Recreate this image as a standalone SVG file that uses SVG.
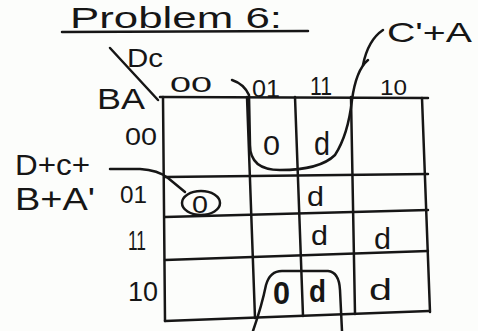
<svg xmlns="http://www.w3.org/2000/svg" width="478" height="331" viewBox="0 0 478 331">
<style>
.t{font-family:"Liberation Sans",Arial,sans-serif;fill:#161616}
.b{font-weight:bold}
.ln{stroke:#161616;stroke-width:2.5;fill:none;stroke-linecap:round;stroke-linejoin:round}
</style>
<rect width="478" height="331" fill="#fcfdfb"/>
<g id="title">
<text class="t" x="70" y="28" font-size="29" textLength="212" lengthAdjust="spacingAndGlyphs">Problem 6:</text>
<path class="ln" d="M62 32 L308 31"/>
</g>
<g id="axis-labels">
<path class="ln" d="M110 48 L158 100" stroke-width="3"/>
<text class="t" x="127" y="67" font-size="26" textLength="36" lengthAdjust="spacingAndGlyphs">Dc</text>
<text class="t" x="97" y="109" font-size="30" textLength="48" lengthAdjust="spacingAndGlyphs">BA</text>
</g>
<g id="col-headers">
<text class="t" x="170" y="92" font-size="22" textLength="42" lengthAdjust="spacingAndGlyphs">00</text>
<text class="t" x="252" y="97" font-size="24" textLength="28" lengthAdjust="spacingAndGlyphs">01</text>
<text class="t" x="310" y="95" font-size="26" textLength="22" lengthAdjust="spacingAndGlyphs">11</text>
<text class="t" x="380" y="95" font-size="22" textLength="27" lengthAdjust="spacingAndGlyphs">10</text>
</g>
<g id="row-headers">
<text class="t" x="125" y="145" font-size="23" textLength="32" lengthAdjust="spacingAndGlyphs">00</text>
<text class="t" x="120" y="203" font-size="24" textLength="27" lengthAdjust="spacingAndGlyphs">01</text>
<text class="t" x="128" y="250" font-size="27" textLength="18" lengthAdjust="spacingAndGlyphs">11</text>
<text class="t" x="128" y="301" font-size="28" textLength="30" lengthAdjust="spacingAndGlyphs">10</text>
</g>
<g id="grid">
<path class="ln" d="M160 97 L428 98"/>
<path class="ln" d="M163 97 L165 321"/>
<path class="ln" d="M247 97 L255 318"/>
<path class="ln" d="M295 97 L303 316"/>
<path class="ln" d="M351 97 L355 314"/>
<path class="ln" d="M422 98 L430 312"/>
<path class="ln" d="M165 177 L428 174"/>
<path class="ln" d="M165 217 L428 210"/>
<path class="ln" d="M165 260 L428 251"/>
<path class="ln" d="M165 321 L429 311"/>
</g>
<g id="cells">
<text class="t" x="263" y="155" font-size="27" textLength="17" lengthAdjust="spacingAndGlyphs">0</text>
<text class="t" x="314" y="155" font-size="34" textLength="16" lengthAdjust="spacingAndGlyphs">d</text>
<text class="t" x="192" y="213" font-size="24" textLength="16" lengthAdjust="spacingAndGlyphs">0</text>
<text class="t" x="307" y="206" font-size="28" textLength="17" lengthAdjust="spacingAndGlyphs">d</text>
<text class="t" x="311" y="245" font-size="28" textLength="17" lengthAdjust="spacingAndGlyphs">d</text>
<text class="t" x="374" y="249" font-size="30" textLength="17" lengthAdjust="spacingAndGlyphs">d</text>
<text class="t b" x="273" y="304" font-size="32" textLength="17" lengthAdjust="spacingAndGlyphs">0</text>
<text class="t b" x="309" y="302" font-size="32" textLength="17" lengthAdjust="spacingAndGlyphs">d</text>
<text class="t" x="369" y="300" font-size="30" textLength="23" lengthAdjust="spacingAndGlyphs">d</text>
</g>
<g id="group-c-a">
<path class="ln" d="M232 80 Q244 84 249 95 L250 145 Q250 170 280 170 Q320 170 335 155 Q348 135 352 100 Q356 70 368 60"/>
<path class="ln" d="M363 65 Q368 40 383 30"/>
<text class="t" x="387" y="42" font-size="28" textLength="85" lengthAdjust="spacingAndGlyphs">C'+A</text>
</g>
<g id="group-dcba">
<ellipse class="ln" cx="201" cy="203" rx="19" ry="12"/>
<path class="ln" d="M110 169 L140 169 Q158 170 168 178 L185 192"/>
<text class="t" x="15" y="175" font-size="30" textLength="75" lengthAdjust="spacingAndGlyphs">D+c+</text>
<text class="t" x="15" y="210" font-size="32" textLength="80" lengthAdjust="spacingAndGlyphs">B+A'</text>
</g>
<g id="group-bottom">
<path class="ln" d="M253 331 Q262 305 266 285 Q270 271 282 271 L328 271 Q339 272 340 290 L342 331"/>
</g>
</svg>
